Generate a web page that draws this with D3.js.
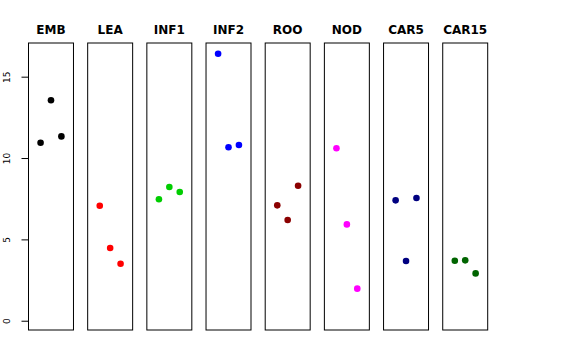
<!DOCTYPE html>
<html>
<head>
<meta charset="utf-8">
<script src="https://cdn.jsdelivr.net/npm/d3@7"></script>
<style>
  html, body { margin: 0; padding: 0; background: #fff; }
  svg { display: block; }
</style>
</head>
<body>
<svg id="chart" width="576" height="360"></svg>
<script>
// ---- data ----
const categories = ["EMB", "LEA", "INF1", "INF2", "ROO", "NOD", "CAR5", "CAR15"];
const colors = ["#000000", "#FF0000", "#00CD00", "#0000FF", "#8B0000", "#FF00FF", "#000080", "#006400"];
const replicate = [1, 2, 3];
const valuesEMB   = [10.94, 13.55, 11.33];
const valuesLEA   = [7.07, 4.47, 3.50];
const valuesINF1  = [7.47, 8.22, 7.91];
const valuesINF2  = [16.41, 10.66, 10.80];
const valuesROO   = [7.09, 6.19, 8.30];
const valuesNOD   = [10.60, 5.92, 1.97];
const valuesCAR5  = [7.40, 3.67, 7.54];
const valuesCAR15 = [3.69, 3.71, 2.91];
const yTicks = [0, 5, 10, 15];

const seriesValues = [valuesEMB, valuesLEA, valuesINF1, valuesINF2, valuesROO, valuesNOD, valuesCAR5, valuesCAR15];

// ---- layout ----
const svg = d3.select("#chart");
const panelTop = 43, panelBottom = 330;

const panel = d3.scaleBand()
  .domain(categories)
  .range([28.5, 487.7])
  .paddingInner(0.24)
  .paddingOuter(0);

const y = d3.scaleLinear().domain([-0.57, 17.07]).range([panelBottom, panelTop]);
const x = d3.scaleLinear().domain([-0.16, 4.16]).range([0, panel.bandwidth()]);

// ---- panels ----
categories.forEach((cat, i) => {
  const g = svg.append("g").attr("transform", `translate(${panel(cat)},0)`);
  g.append("rect")
    .attr("x", 0).attr("y", panelTop)
    .attr("width", panel.bandwidth()).attr("height", panelBottom - panelTop)
    .attr("fill", "none").attr("stroke", "#000").attr("stroke-width", 1);

  g.append("text")
    .attr("x", panel.bandwidth() / 2)
    .attr("y", 33.5)
    .attr("text-anchor", "middle")
    .attr("font-family", "DejaVu Sans, sans-serif")
    .attr("font-weight", "bold")
    .attr("font-size", 12)
    .text(cat);

  g.selectAll("circle")
    .data(seriesValues[i].map((v, j) => ({ r: replicate[j], v })))
    .join("circle")
    .attr("cx", d => x(d.r))
    .attr("cy", d => y(d.v))
    .attr("r", 3.3)
    .attr("fill", colors[i]);
});

// ---- y axis ----
const axis = d3.axisLeft(y).tickValues(yTicks).tickSize(7).tickPadding(12).tickFormat(d3.format("d"));
const ga = svg.append("g")
  .attr("transform", `translate(${panel(categories[0])},0)`)
  .call(axis);
ga.select(".domain")
  .attr("d", `M0,${y(0)}V${y(15)}`)
  .attr("stroke", "#000");
ga.selectAll(".tick line").attr("stroke", "#000");
ga.selectAll(".tick text")
  .attr("font-family", "DejaVu Sans, sans-serif")
  .attr("font-size", 9)
  .attr("fill", "#000")
  .attr("text-anchor", "middle")
  .attr("dy", 0)
  .attr("x", 0)
  .attr("transform", "translate(-19,0) rotate(-90)");
</script>
</body>
</html>
